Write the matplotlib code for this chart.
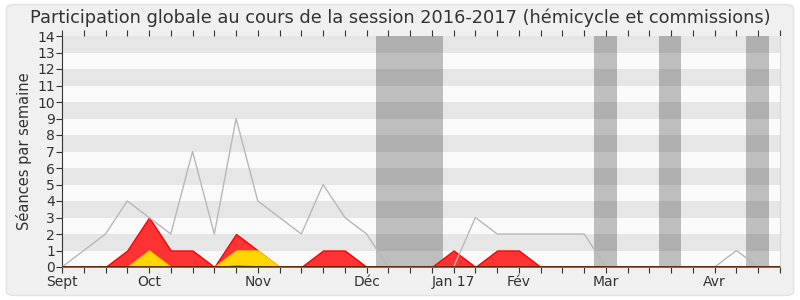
import matplotlib
matplotlib.use("Agg")
import matplotlib.pyplot as plt
from matplotlib.patches import FancyBboxPatch
import numpy as np

# ---- data (week index 0..33) ----
weeks = list(range(34))
total_seances = [0, 1, 2, 4, 3, 2, 7, 2, 9, 4, 3, 2, 5, 3, 2, 0, 0, 0, 0, 3, 2, 2,
                 2, 2, 2, 0, 0, 0, 0, 0, 0, 1, 0, 0]
presences = [0, 0, 0, 1, 3, 1, 1, 0, 2, 1, 0, 0, 1, 1, 0, 0, 0, 0, 1, 0, 1, 1,
             0, 0, 0, 0, 0, 0, 0, 0, 0, 0, 0, 0]
interventions = [0, 0, 0, 0, 1, 0, 0, 0, 1, 1, 0, 0, 0, 0, 0, 0, 0, 0, 0, 0, 0, 0,
                 0, 0, 0, 0, 0, 0, 0, 0, 0, 0, 0, 0]
questions = [0, 0, 0, 0, 0, 0, 0, 0, 0.08, 0.04, 0, 0, 0, 0, 0, 0, 0, 0, 0, 0, 0, 0,
             0, 0, 0, 0, 0, 0, 0, 0, 0, 0, 0, 0]
vacances = [(14.45, 17.5), (24.45, 25.5), (27.45, 28.45), (31.45, 32.5)]
month_pos = [0, 4, 9, 14, 18, 21, 25, 30]
month_labels = ["Sept", "Oct", "Nov", "Déc", "Jan 17", "Fév", "Mar", "Avr"]
title = "Participation globale au cours de la session 2016-2017 (hémicycle et commissions)"
ylabel = "Séances par semaine"

plt.rcParams['font.family'] = ['DejaVu Sans']

fig = plt.figure(figsize=(8, 3), dpi=100)
fig.patch.set_facecolor("white")
bg = FancyBboxPatch((0.008, 0.015), 0.984, 0.97, boxstyle="round,pad=0,rounding_size=0.012",
                    transform=fig.transFigure, facecolor="#f0f0f0", edgecolor="#e2e2e2",
                    linewidth=1.0, zorder=-10)
fig.patches.append(bg)

ax = fig.add_axes([0.0775, 0.11, 0.8975, 0.77])
ax.set_facecolor("#fafafa")
ax.set_xlim(0, 33)
ax.set_ylim(0, 14)

for a, b in vacances:
    ax.axvspan(a, b, color="#bebebe", lw=0, zorder=0.5)
for k in range(1, 14, 2):
    ax.axhspan(k, k + 1, color="black", alpha=0.08, lw=0, zorder=0.6)

x = np.array(weeks)
ax.fill_between(x, 0, presences, facecolor="#ff3333", edgecolor="#ff0000", lw=1, zorder=2)
ax.fill_between(x, 0, interventions, facecolor="#ffd700", edgecolor="#ffcc00", lw=1, zorder=3)
ax.fill_between(x, 0, questions, facecolor="#00cc00", edgecolor="#00bb00", lw=1, zorder=4)
ax.plot(x, total_seances, color="#b8b8b8", lw=1, zorder=5)
ax.axhline(0, color="#5a1400", lw=1.2, zorder=6)

ax.spines["top"].set_visible(False)
ax.spines["right"].set_color("#d8d8d8")
ax.spines["left"].set_color("#333333")
ax.spines["bottom"].set_visible(False)

ax.set_yticks(range(0, 15))
ax.tick_params(axis="y", direction="out", length=4, width=0.8, labelsize=10,
               pad=1, colors="#333333")
ax.set_xticks(weeks, minor=True)
ax.set_xticks(month_pos)
ax.set_xticklabels(month_labels)
ax.tick_params(axis="x", which="both", direction="out", length=4, width=0.8,
               labelsize=10, pad=2, colors="#333333", top=True, labeltop=False)
ax.set_ylabel(ylabel, fontsize=10.5, color="#333333", labelpad=4)
fig.text(0.5, 0.94, title, ha="center", va="center", fontsize=12.8, color="#333333")

fig.savefig("out.png", dpi=100, facecolor=fig.get_facecolor())
